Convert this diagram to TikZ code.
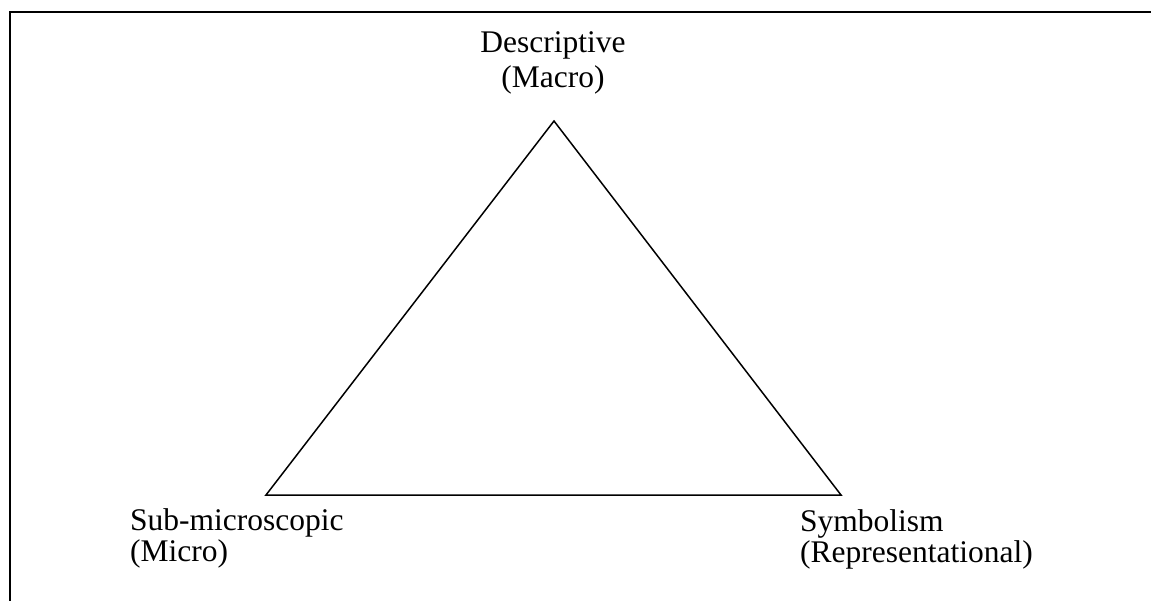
\documentclass[tikz,border=0pt]{standalone}
\usepackage{fontspec}
\setmainfont{Liberation Serif}
\begin{document}
\begin{tikzpicture}[x=1pt,y=-1pt,
  lbl/.style={inner sep=0pt, font=\fontsize{31.5}{33}\selectfont},
  edge/.style={line width=1.5pt, line join=miter},
  frame/.style={line width=2pt, line join=miter}]
\useasboundingbox (0,0) rectangle (1151,601);
% partial frame
\coordinate (ftr) at (1151,12.5);
\coordinate (ftl) at (10,12.5);
\coordinate (fbl) at (10,601);
\draw[frame] (ftr) -- (ftl) -- (fbl);
% triangle vertices
\coordinate (apex) at (554,121);
\coordinate (bl) at (266,495);
\coordinate (br) at (841,495);
\draw[edge] (apex) -- (bl) -- (br) -- cycle;
% labels
\node[lbl, align=center, anchor=north, font=\fontsize{31.5}{35}\selectfont] (desc) at (553,31.5) {Descriptive\\(Macro)};
\node[lbl, align=left, anchor=north west, font=\fontsize{31.5}{31}\selectfont] (micro) at (130,508.5) {Sub-microscopic\\(Micro)};
\node[lbl, align=left, anchor=north west, font=\fontsize{31.5}{31}\selectfont] (symb) at (800,509.5) {Symbolism\\(Representational)};
\end{tikzpicture}
\end{document}
